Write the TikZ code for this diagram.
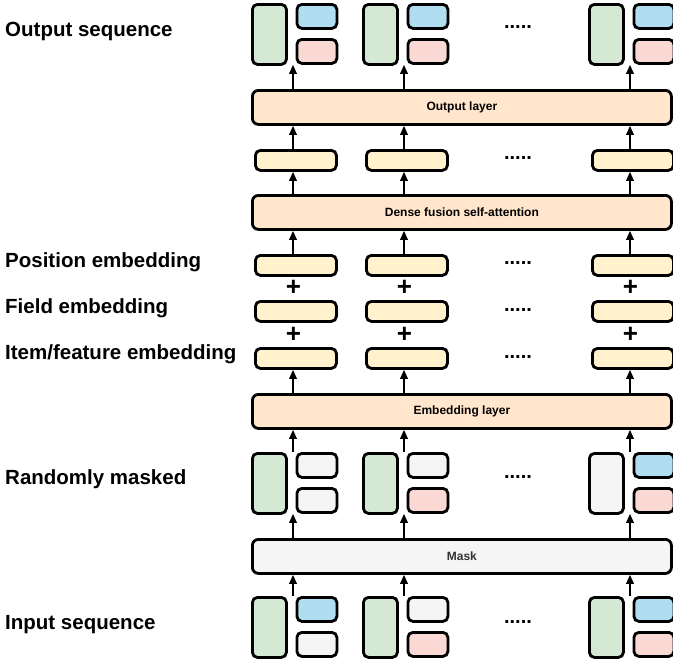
\documentclass[tikz,border=0pt]{standalone}
\usepackage{fontspec}
\setmainfont{Liberation Sans}
\usetikzlibrary{arrows.meta}
\definecolor{cgreen}{HTML}{D5E8D4}
\definecolor{cblue}{HTML}{B1DDF0}
\definecolor{cpink}{HTML}{FAD9D5}
\definecolor{cgray}{HTML}{F5F5F5}
\definecolor{cyellow}{HTML}{FFF2CC}
\definecolor{corange}{HTML}{FFE6CC}
\definecolor{ctext}{HTML}{333333}
\newcommand\mkgroup[6]{%
  \node[box, fill=#4, minimum width=34pt, minimum height=60pt] (#1-g) at ({#2+1},{#3+1}) {};
  \node[box, fill=#5, minimum width=40pt, minimum height=24pt] (#1-t) at ({#2+45.5},{#3+1}) {};
  \node[box, fill=#6, minimum width=40pt, minimum height=24pt] (#1-b) at ({#2+45.5},{#3+36}) {};}
\newcommand\mkybar[3]{%
  \node[box, fill=cyellow, minimum width=81pt, minimum height=20pt] (#1) at ({#2+4},{#3+1}) {};}
\begin{document}
\begin{tikzpicture}[x=1pt,y=-1pt,
  box/.style={draw, line width=2.8pt, rounded corners=5pt, inner sep=0pt, anchor=north west},
  wide/.style={box, rounded corners=6pt, minimum width=419pt, minimum height=34pt, font=\fontsize{12}{14}\selectfont\bfseries},
  arr/.style={line width=1.7pt, -{Triangle[length=9pt,width=7.5pt]}},
  lab/.style={font=\fontsize{20.5}{24}\selectfont\bfseries, anchor=base west, inner sep=0pt},
  dots/.style={font=\fontsize{20}{24}\selectfont\bfseries, inner sep=0pt},
  plus/.style={font=\fontsize{26}{30}\selectfont\bfseries, inner sep=0pt}]
\useasboundingbox (0,0) rectangle (673,667);
\coordinate (cA) at (293,0);
\coordinate (cB) at (404,0);
\coordinate (cD) at (630,0);
% rows of groups
\mkgroup{oA}{250}{2}{cgreen}{cblue}{cpink}
\mkgroup{oB}{361}{2}{cgreen}{cblue}{cpink}
\mkgroup{oD}{587}{2}{cgreen}{cblue}{cpink}
\mkgroup{mA}{250}{451}{cgreen}{cgray}{cgray}
\mkgroup{mB}{361}{451}{cgreen}{cgray}{cpink}
\mkgroup{mD}{587}{451}{cgray}{cblue}{cpink}
\mkgroup{iA}{250}{595}{cgreen}{cblue}{cgray}
\mkgroup{iB}{361}{595}{cgreen}{cgray}{cpink}
\mkgroup{iD}{587}{595}{cgreen}{cblue}{cpink}
% wide layers
\node[wide, fill=corange] (outl) at (251,89) {Output layer};
\node[wide, fill=corange] (dense) at (251,194) {Dense fusion self-attention};
\node[wide, fill=corange] (emb) at (251,393) {Embedding layer};
\node[wide, fill=cgray, text=ctext] (mask) at (251,538) {Mask};
% yellow bars
\mkybar{hA}{250}{148}\mkybar{hB}{361}{148}\mkybar{hD}{587}{148}
\mkybar{pA}{250}{253}\mkybar{pB}{361}{253}\mkybar{pD}{587}{253}
\mkybar{fA}{250}{299}\mkybar{fB}{361}{299}\mkybar{fD}{587}{299}
\mkybar{eA}{250}{346}\mkybar{eB}{361}{346}\mkybar{eD}{587}{346}
% plus signs
\foreach \c/\x in {A/293.5,B/404.5,D/630.5}{
  \node[plus] (plus1\c) at (\x,288) {+};
  \node[plus] (plus2\c) at (\x,335) {+};
}
% arrows
\foreach \c in {A,B,D}{
  \draw[arr] (i\c-t.north -| c\c) -- (mask.south -| c\c);
  \draw[arr] (mask.north -| c\c) -- (m\c-b.south -| c\c);
  \draw[arr] (m\c-t.north -| c\c) -- (emb.south -| c\c);
  \draw[arr] (emb.north -| c\c) -- (e\c.south -| c\c);
  \draw[arr] (p\c.north -| c\c) -- (dense.south -| c\c);
  \draw[arr] (dense.north -| c\c) -- (h\c.south -| c\c);
  \draw[arr] (h\c.north -| c\c) -- (outl.south -| c\c);
  \draw[arr] (outl.north -| c\c) -- (o\c-b.south -| c\c);
}
% dots
\foreach \y/\n in {27/1,158/2,263/3,310/4,357/5,477/6,622/7}{
  \node[dots] (dots\n) at (518,\y) {.....};
}
% labels
\node[lab] (l1) at (5,36) {Output sequence};
\node[lab] (l2) at (5,267) {Position embedding};
\node[lab] (l3) at (5,313) {Field embedding};
\node[lab] (l4) at (5,359) {Item/feature embedding};
\node[lab] (l5) at (5,484) {Randomly masked};
\node[lab] (l6) at (5,629) {Input sequence};
\end{tikzpicture}
\end{document}
